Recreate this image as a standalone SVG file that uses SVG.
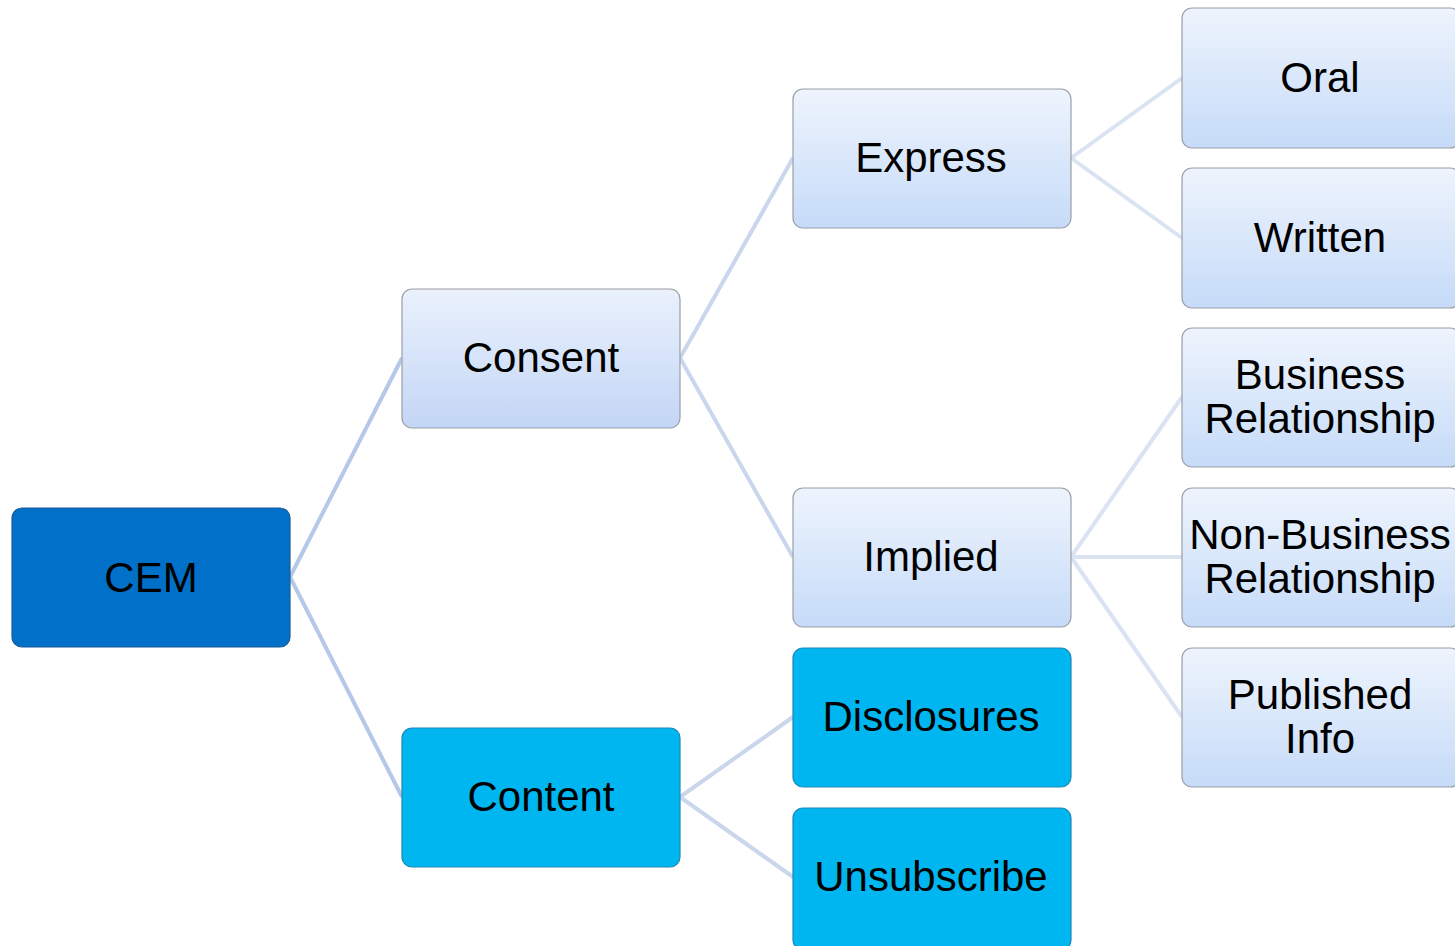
<svg xmlns="http://www.w3.org/2000/svg" width="1455" height="946" viewBox="0 0 1455 946">
<defs>
<linearGradient id="lg" x1="0" y1="0" x2="0" y2="1">
<stop offset="0" stop-color="#eef4fd"/>
<stop offset="1" stop-color="#c6dbf8"/>
</linearGradient>
<linearGradient id="lg2" x1="0" y1="0" x2="0" y2="1">
<stop offset="0" stop-color="#eaf1fc"/>
<stop offset="1" stop-color="#c3d6f6"/>
</linearGradient>
<style>
.light rect{fill:url(#lg);stroke:#9a9ea6;stroke-width:1.2}
.l1 rect{fill:url(#lg2)}
.dark rect{fill:#0070c9;stroke:#1a5a99;stroke-width:1.2}
.cyan rect{fill:#00b6f0;stroke:#1a89b5;stroke-width:1.2}
text{font-family:"Liberation Sans",Arial,sans-serif;font-size:42px;fill:#000;text-anchor:middle}
.c1{stroke:#b6c8e8;stroke-width:4;fill:none}
.c2{stroke:#c9d6ec;stroke-width:4;fill:none}
.c3{stroke:#d9e3f2;stroke-width:4;fill:none}
</style>
</defs>
<g id="connectors">
<line class="c1" x1="290" y1="577" x2="402" y2="358"/>
<line class="c1" x1="290" y1="577" x2="402" y2="797"/>
<line class="c2" x1="680" y1="358" x2="793" y2="158"/>
<line class="c2" x1="680" y1="358" x2="793" y2="557"/>
<line class="c2" x1="680" y1="797" x2="793" y2="717"/>
<line class="c2" x1="680" y1="797" x2="793" y2="877"/>
<line class="c3" x1="1071" y1="158" x2="1182" y2="78"/>
<line class="c3" x1="1071" y1="158" x2="1182" y2="238"/>
<line class="c3" x1="1071" y1="557" x2="1182" y2="397"/>
<line class="c3" x1="1071" y1="557" x2="1182" y2="557"/>
<line class="c3" x1="1071" y1="557" x2="1182" y2="717"/>
</g>
<g id="cem" class="dark"><rect x="12" y="508" width="278" height="139" rx="10"/><text x="151" y="592">CEM</text></g>
<g id="consent" class="light l1"><rect x="402" y="289" width="278" height="139" rx="10"/><text x="541" y="372">Consent</text></g>
<g id="content" class="cyan"><rect x="402" y="728" width="278" height="139" rx="10"/><text x="541" y="811">Content</text></g>
<g id="express" class="light"><rect x="793" y="89" width="278" height="139" rx="10"/><text x="931" y="172">Express</text></g>
<g id="implied" class="light"><rect x="793" y="488" width="278" height="139" rx="10"/><text x="931" y="571">Implied</text></g>
<g id="disclosures" class="cyan"><rect x="793" y="648" width="278" height="139" rx="10"/><text x="931" y="731">Disclosures</text></g>
<g id="unsubscribe" class="cyan"><rect x="793" y="808" width="278" height="142" rx="10"/><text x="931" y="891">Unsubscribe</text></g>
<g id="oral" class="light"><rect x="1182" y="8" width="278" height="140" rx="10"/><text x="1320" y="92">Oral</text></g>
<g id="written" class="light"><rect x="1182" y="168" width="278" height="140" rx="10"/><text x="1320" y="252">Written</text></g>
<g id="business" class="light"><rect x="1182" y="328" width="278" height="139" rx="10"/><text x="1320" y="389">Business</text><text x="1320" y="433">Relationship</text></g>
<g id="nonbusiness" class="light"><rect x="1182" y="488" width="278" height="139" rx="10"/><text x="1320" y="549">Non-Business</text><text x="1320" y="593">Relationship</text></g>
<g id="published" class="light"><rect x="1182" y="648" width="278" height="139" rx="10"/><text x="1320" y="709">Published</text><text x="1320" y="753">Info</text></g>
</svg>
